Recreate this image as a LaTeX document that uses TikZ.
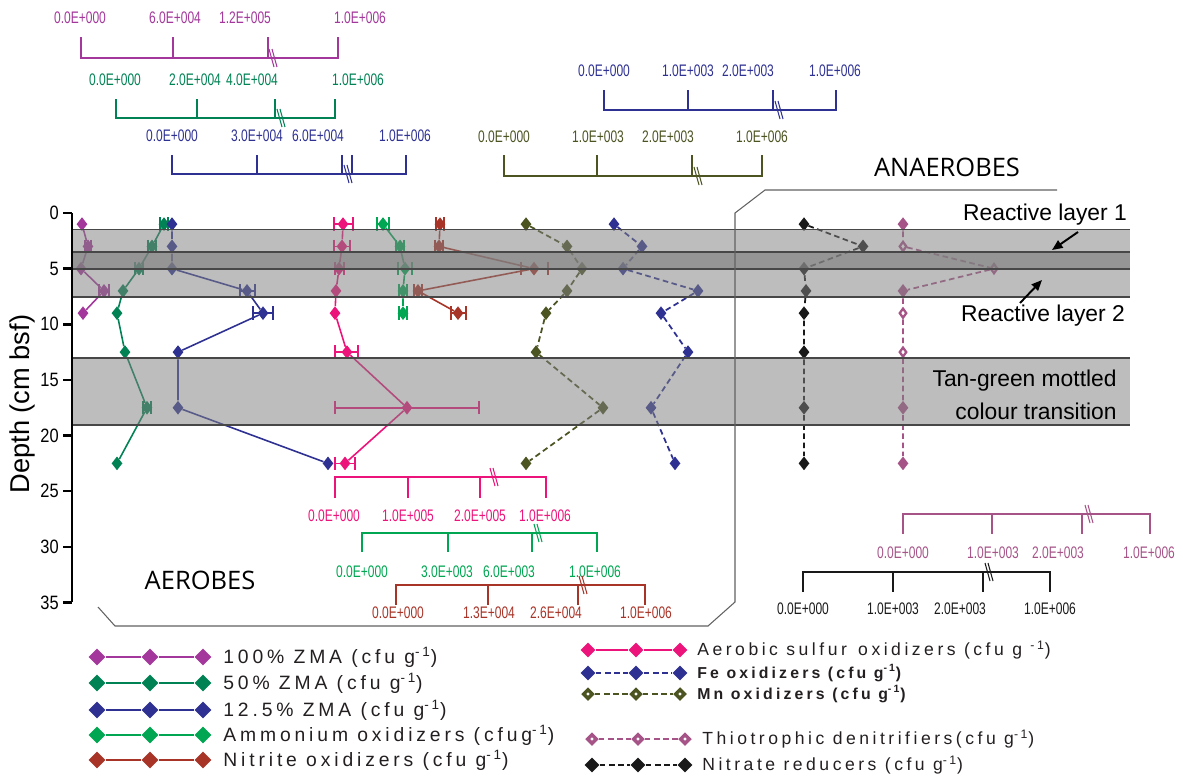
\documentclass[tikz,border=0pt]{standalone}
\usepackage{fontspec}
\setmainfont{Liberation Sans}
\newfontfamily\narrowfont[FakeStretch=0.72]{Liberation Sans}
\newfontfamily\tickfont[FakeStretch=0.85]{Liberation Sans}
\newfontfamily\legfont[LetterSpace=20]{Liberation Sans}
\newfontfamily\zonefont{Open Sans}
\usetikzlibrary{shapes.geometric,arrows.meta}

\definecolor{zmaA}{RGB}{163,55,155}
\definecolor{zmaB}{RGB}{0,130,84}
\definecolor{zmaC}{RGB}{46,49,146}
\definecolor{amox}{RGB}{0,166,81}
\definecolor{nitox}{RGB}{168,52,40}
\definecolor{sulf}{RGB}{236,20,122}
\definecolor{feox}{RGB}{46,49,146}
\definecolor{mnox}{RGB}{76,84,34}
\definecolor{thio}{RGB}{166,84,136}
\definecolor{nred}{RGB}{25,25,25}
\definecolor{txtc}{RGB}{35,31,32}

\tikzset{>={Triangle[length=6pt,width=5pt]}}
\tikzset{
    mk/.style={diamond,inner sep=0pt,minimum width=0.22cm,minimum height=0.28cm},
    thf/.style={mk,fill=thio},
    tho/.style={mk,draw=thio,fill=white,line width=1.3pt,minimum width=0.15cm,minimum height=0.2cm},
    ln/.style={line width=0.9pt},
    dln/.style={line width=1pt,dash pattern=on 3.2pt off 2pt},
    eb/.style={line width=0.9pt},
    sbar/.style={line width=1.1pt},
    brk/.style={line width=0.6pt},
    sclab/.style={inner sep=0pt,font=\narrowfont\fontsize{9.5}{11}\selectfont},
    tklab/.style={anchor=east,inner sep=0pt,font=\tickfont\fontsize{11}{13}\selectfont},
    axis/.style={line width=1.4pt},
    band/.style={fill=black!50,fill opacity=0.52},
    bandline/.style={draw=black!72,line width=0.7pt},
    zone/.style={draw=black!62,line width=0.6pt},
    anno/.style={inner sep=0pt,font=\fontsize{13}{19}\selectfont},
    zonelab/.style={inner sep=0pt,font=\zonefont\fontsize{14.5}{17}\selectfont},
    lmk/.style={diamond,inner sep=0pt,minimum width=0.34cm,minimum height=0.34cm},
    rmk/.style={diamond,inner sep=0pt,minimum width=0.3cm,minimum height=0.3cm},
    rmko/.style={diamond,inner sep=0pt,minimum width=0.2cm,minimum height=0.2cm,line width=2pt,fill=white},
    legtxt/.style={anchor=west,inner sep=0pt,text=txtc,font=\legfont\fontsize{10}{12}\selectfont},
    legbig/.style={legtxt,font=\legfont\fontsize{11}{13}\selectfont},
}

% colour, baseline, tick end, ticks, first, last, break
\newcommand{\scalebar}[7]{%
  \draw[sbar,#1] (#5,#3) -- (#5,#2) -- (#6,#2) -- (#6,#3);
  \foreach \tx in {#4} \draw[sbar,#1] (\tx,#2) -- (\tx,#3);
  \draw[brk,#1] (#7-3,#2-9) -- (#7+2,#2+9) (#7,#2-9) -- (#7+5,#2+9);
}
% name, colour, y, x/text
\newcommand{\sclabels}[4]{%
  \foreach \lx/\lt [count=\k] in {#4} \node[sclab,text=#2] (#1\k) at (\lx,#3) {\lt};
}
% name, colour, x/depth
\newcommand{\series}[3]{%
  \foreach \px/\yy [count=\k] in {#3} \node[mk,fill=#2] (#1\k) at (\px,\yy) {};
}
% colour, low, high, depth
\newcommand{\ebar}[4]{%
  \draw[eb,#1] (#2,#4) -- (#3,#4) (#2,#4-0.6) -- (#2,#4+0.6) (#3,#4-0.6) -- (#3,#4+0.6);
}

\begin{document}
\begin{tikzpicture}[x=0.02cm,y=-0.02cm]
\useasboundingbox (0,0) rectangle (1183,782);

% scale bars
\scalebar{zmaA}{58}{37}{81,173,268,338}{81}{338}{272}
\sclabels{lzA}{zmaA}{18}{80/0.0E+000,175/6.0E+004,245/1.2E+005,360/1.0E+006}
\scalebar{zmaB}{118}{99}{116,197,275,335}{116}{335}{280}
\sclabels{lzB}{zmaB}{80}{115/0.0E+000,195/2.0E+004,252/4.0E+004,358/1.0E+006}
\scalebar{zmaC}{174}{155}{172,257,342,352,406}{172}{406}{347}
\sclabels{lzC}{zmaC}{136}{172/0.0E+000,257/3.0E+004,318/6.0E+004,405/1.0E+006}
\scalebar{feox}{110}{90}{604,688,773,836}{604}{836}{778}
\sclabels{lfe}{feox}{71}{604/0.0E+000,688/1.0E+003,748/2.0E+003,835/1.0E+006}
\scalebar{mnox}{176}{155}{504,597,692,762}{504}{762}{697}
\sclabels{lmn}{mnox}{137}{504/0.0E+000,598/1.0E+003,668/2.0E+003,762/1.0E+006}
\scalebar{sulf}{477}{498}{335,408,480,546}{335}{546}{493}
\sclabels{lsu}{sulf}{516}{334/0.0E+000,408/1.0E+005,480/2.0E+005,545/1.0E+006}
\scalebar{amox}{533}{552}{362,448,532,597}{362}{597}{537}
\sclabels{lam}{amox}{572}{362/0.0E+000,447/3.0E+003,509/6.0E+003,595/1.0E+006}
\scalebar{nitox}{585}{605}{396,488,578,645}{396}{645}{582}
\sclabels{lni}{nitox}{613}{398/0.0E+000,489/1.3E+004,556/2.6E+004,646/1.0E+006}
\scalebar{thio}{514}{534}{903,992,1082,1150}{903}{1150}{1088}
\sclabels{lth}{thio}{553}{903/0.0E+000,993/1.0E+003,1058/2.0E+003,1149/1.0E+006}
\begin{scope}[sbar/.style={line width=0.7pt}]
\scalebar{nred}{572}{592}{803,893,983,1050}{803}{1050}{988}
\end{scope}
\sclabels{lnr}{nred}{609}{803/0.0E+000,893/1.0E+003,960/2.0E+003,1050/1.0E+006}

\begin{scope}[shift={(0,213)},y=-0.2226cm]
% error bars
\foreach \lo/\hi/\yy in {85/91/3,99/109/7} \ebar{zmaA}{\lo}{\hi}{\yy};
\foreach \lo/\hi/\yy in {160/168/1,148/156/3,135/143/5,143/151/17.5} \ebar{zmaB}{\lo}{\hi}{\yy};
\foreach \lo/\hi/\yy in {240/255/7,253/273/9} \ebar{zmaC}{\lo}{\hi}{\yy};
\foreach \lo/\hi/\yy in {334/353/1,334/350/3,335/344/5,335/358/12.5,335/479/17.5,335/355/22.5} \ebar{sulf}{\lo}{\hi}{\yy};
\foreach \lo/\hi/\yy in {377/389/1,396/404/3,398/412/5,399/407/7,399/407/9} \ebar{amox}{\lo}{\hi}{\yy};
\foreach \lo/\hi/\yy in {436/444/1,435/443/3,521/548/5,414/422/7,451/466/9} \ebar{nitox}{\lo}{\hi}{\yy};

% profiles
\series{zA}{zmaA}{82/1,88/3,81/5,104/7,83/9}
\series{zB}{zmaB}{164/1,152/3,139/5,123/7,117/9,125/12.5,147/17.5,117/22.5}
\series{zC}{zmaC}{172/1,172/3,172/5,247/7,263/9,178/12.5,178/17.5,328/22.5}
\series{su}{sulf}{343/1,342/3,339/5,336/7,335/9,347/12.5,407/17.5,345/22.5}
\series{am}{amox}{383/1,400/3,405/5,403/7,403/9}
\series{ni}{nitox}{440/1,439/3,534/5,418/7,458/9}
\series{mn}{mnox}{526/1,567/3,582/5,567/7,546/9,536/12.5,603/17.5,526/22.5}
\series{fe}{feox}{614/1,642/3,623/5,698/7,661/9,688/12.5,651/17.5,675/22.5}
\series{nr}{nred}{804/1,863/3,804/5,806/7,804/9,804/12.5,804/17.5,804/22.5}
\foreach \px/\yy/\st [count=\k] in {903/1/thf,903/3/tho,994/5/tho,903/7/thf,903/9/tho,903/12.5/tho,903/17.5/thf,903/22.5/thf}
  \node[\st] (th\k) at (\px,\yy) {};

\draw[ln,zmaA] (zA1) -- (zA2) -- (zA3) -- (zA4) -- (zA5);
\draw[ln,zmaB] (zB1) -- (zB2) -- (zB3) -- (zB4) -- (zB5) -- (zB6) -- (zB7) -- (zB8);
\draw[ln,zmaC] (zC1) -- (zC2) -- (zC3) -- (zC4) -- (zC5) -- (zC6) -- (zC7) -- (zC8);
\draw[ln,sulf] (su1) -- (su2) -- (su3) -- (su4) -- (su5) -- (su6) -- (su7) -- (su8);
\draw[ln,amox] (am1) -- (am2) -- (am3) -- (am4) -- (am5);
\draw[ln,nitox] (ni1) -- (ni2) -- (ni3) -- (ni4) -- (ni5);
\draw[dln,mnox] (mn1) -- (mn2) -- (mn3) -- (mn4) -- (mn5) -- (mn6) -- (mn7) -- (mn8);
\draw[dln,feox] (fe1) -- (fe2) -- (fe3) -- (fe4) -- (fe5) -- (fe6) -- (fe7) -- (fe8);
\draw[dln,nred] (nr1) -- (nr2) -- (nr3) -- (nr4) -- (nr5) -- (nr6) -- (nr7) -- (nr8);
\draw[dln,thio] (th1) -- (th2) -- (th3) -- (th4) -- (th5) -- (th6) -- (th7) -- (th8);

% layers
\fill[band] (72,1.45) rectangle (1130,7.55);
\fill[band,fill opacity=0.66] (72,3.5) rectangle (1130,5.03);
\fill[band] (72,13.03) rectangle (1130,19.05);
\foreach \b in {1.45,3.5,5.03,7.55,13.03,19.05} \draw[bandline] (72,\b) -- (1130,\b);

% depth axis
\draw[axis] (72,0) -- (72,35);
\foreach \t in {0,5,...,35} {
  \draw[axis] (63,\t) -- (72,\t);
  \node[tklab] (tk\t) at (59,\t) {\t};
}
\end{scope}

\node[rotate=90,inner sep=0pt,font=\fontsize{15.5}{18}\selectfont] (ylab) at (22,404) {Depth (cm bsf)};

% zones
\draw[zone] (98,607) -- (115,626) -- (708,626) -- (735,602) -- (735,213) -- (765,190) -- (1057,190);
\node[zonelab] (aer) at (200,580) {AEROBES};
\node[zonelab] (anaer) at (947,167) {ANAEROBES};

\node[anno] (rl1) at (1045,215) {Reactive layer 1};
\node[anno] (rl2) at (1043,316) {Reactive layer 2};
\node[anno,align=right,anchor=east] (tan) at (1117,395) {Tan-green mottled\\colour transition};
\coordinate (rl1tail) at (1078,232);
\coordinate (rl1tip) at (1052,250);
\coordinate (rl2tail) at (1020,303);
\coordinate (rl2tip) at (1042,280);
\draw[->,line width=1.1pt] (rl1tail) -- (rl1tip);
\draw[->,line width=1.1pt] (rl2tail) -- (rl2tip);

% legend
\foreach \n/\c/\yy in {gA/zmaA/657,gB/zmaB/683,gC/zmaC/710,gD/amox/735,gE/nitox/760} {
  \foreach \xx [count=\k] in {97,150,203} \node[lmk,fill=\c] (\n\k) at (\xx,\yy) {};
  \draw[line width=1.1pt,\c] (\n1) -- (\n2) -- (\n3);
}
\foreach \xx [count=\k] in {588,636,680} {
  \node[rmk,fill=sulf] (gF\k) at (\xx,650) {};
  \node[rmk,fill=feox] (gG\k) at (\xx,673) {};
  \node[rmko,draw=mnox] (gH\k) at (\xx,694) {};
}
\foreach \xx [count=\k] in {592,638,685} {
  \node[rmko,draw=thio] (gI\k) at (\xx,739) {};
  \node[rmk,fill=nred] (gJ\k) at (\xx,765) {};
}
\draw[line width=1.1pt,sulf] (gF1) -- (gF2) -- (gF3);
\draw[dln,feox] (gG1) -- (gG2) -- (gG3);
\draw[dln,mnox] (gH1) -- (gH2) -- (gH3);
\draw[dln,thio] (gI1) -- (gI2) -- (gI3);
\draw[dln,nred] (gJ1) -- (gJ2) -- (gJ3);

\node[legbig] (tA) at (223,657) {100\% ZMA (cfu g\textsuperscript{-1})};
\node[legbig] (tB) at (223,683) {50\% ZMA (cfu g\textsuperscript{-1})};
\node[legbig] (tC) at (223,710) {12.5\% ZMA (cfu g\textsuperscript{-1})};
\node[legbig] (tD) at (223,735) {Ammonium oxidizers (cfug\textsuperscript{-1})};
\node[legbig] (tE) at (223,760) {Nitrite oxidizers (cfu g\textsuperscript{-1})};
\node[legtxt] (tF) at (697,650) {Aerobic sulfur\, oxidizers (cfu g \textsuperscript{-1})};
\node[legtxt,font=\legfont\bfseries\fontsize{9}{11}\selectfont] (tG) at (697,673) {Fe oxidizers (cfu g\textsuperscript{-1})};
\node[legtxt,font=\legfont\bfseries\fontsize{9}{11}\selectfont] (tH) at (697,694) {Mn oxidizers (cfu g\textsuperscript{-1})};
\node[legtxt] (tI) at (702,739) {Thiotrophic denitrifiers(cfu g\textsuperscript{-1})};
\node[legtxt] (tJ) at (702,765) {Nitrate reducers (cfu g\textsuperscript{-1})};
\end{tikzpicture}
\end{document}
